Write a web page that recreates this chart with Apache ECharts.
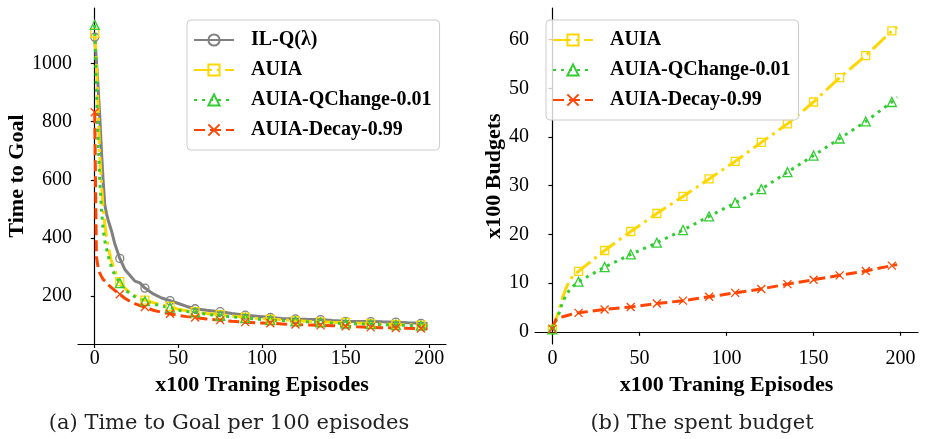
<!DOCTYPE html>
<html><head><meta charset="utf-8">
<script src="https://cdn.jsdelivr.net/npm/echarts@6/dist/echarts.min.js"></script>
<style>html,body{margin:0;padding:0;background:#fff}#c{width:926px;height:439px}</style>
</head><body><div id="c"></div>
<script>
// ---- data (left: Time to Goal) ----
const leftX = [0,1,2,3,4,5,6,7,8,10,12,15,18,21,24,27,30,35,40,45,50,55,60,67,75,82,90,97,105,112,120,127,135,142,150,157,165,172,180,187,195,199];
const leftIL = [1090,1010,920,820,700,600,515,485,462,425,380,330,292,272,252,246,228,208,194,185,175,165,157,152,147,141,135,131,127,124,122,121,120,117,114,113,113,112,111,109,107,106];
const leftAUIA = [1104,1000,850,690,590,505,450,405,370,320,288,250,228,212,202,194,187,178,170,165,155,150,147,141,137,132,128,124,121,119,116,114,112,111,110,108,106,104,103,102,101,100];
const leftQC = [1132,920,740,600,500,430,390,365,340,300,272,245,222,210,198,190,183,173,167,161,152,148,145,138,133,129,125,121,118,116,114,112,110,108,106,105,104,102,101,100,99,98];
const leftDecay = [832,335,300,280,268,258,252,247,240,230,220,207,193,183,175,168,163,152,145,140,134,130,127,122,118,114,111,109,107,105,103,101,100,99,97,95,93,92,91,90,89,88];
// ---- data (right: spent budget) ----
const rightX = [0,1,2,3,4,5,6,8,10,12,15,30,45,60,75,90,105,120,135,150,165,180,195,198];
const rightAUIA = [0.5,1.4,2.5,3.6,4.8,6.0,7.2,9.1,10.6,11.6,12.4,16.7,20.6,24.3,27.8,31.4,35.0,38.9,42.7,47.2,52.2,56.7,61.8,62.6];
const rightQC = [0.5,1.3,2.2,3.1,4.0,5.2,6.2,7.6,8.7,9.4,10.3,13.3,15.9,18.3,20.9,23.7,26.5,29.3,32.8,36.2,39.7,43.2,47.2,48.2];
const rightDecay = [0.6,1.8,2.5,2.8,2.9,3.0,3.1,3.3,3.5,3.7,3.9,4.6,5.1,5.8,6.4,7.2,8.0,8.8,9.8,10.7,11.6,12.5,13.6,13.8];
// ---- ticks ----
const xTicks = [0,50,100,150,200];
const leftYTicks = [200,400,600,800,1000];
const rightYTicks = [0,10,20,30,40,50,60];
const names = ['IL-Q(\u03bb)','AUIA','AUIA-QChange-0.01','AUIA-Decay-0.99'];

const SERIF = '"Liberation Serif", "Times New Roman", serif';
const XPATH = 'path://M0,0L10,10M10,0L0,10';
const styles = {
  'IL-Q(\u03bb)': {color:'#808080', type:'solid', symbol:'circle', size:8},
  'AUIA': {color:'#FFD700', type:[18,5,3,5], symbol:'rect', size:8},
  'AUIA-QChange-0.01': {color:'#32CD32', type:[3,5], symbol:'triangle', size:9},
  'AUIA-Decay-0.99': {color:'#FF4500', type:[11,5], symbol:XPATH, size:8}
};
function mk(name, xs, ys, g){
  const s = styles[name];
  return {
    type:'line', name, xAxisIndex:g, yAxisIndex:g,
    data: xs.map((x,i)=> (x%15===0) ? [x, ys[i]] : {value:[x, ys[i]], symbol:'none'}),
    symbol:s.symbol, symbolSize:s.size, showAllSymbol:true,
    lineStyle:{color:s.color, width:3, type:s.type},
    itemStyle:{color:'rgba(255,255,255,0)', borderColor:s.color, borderWidth:1.3},
    emphasis:{disabled:true}, silent:true, z:2
  };
}
const plain = v => String(v);
function xAxis(g){
  return {type:'value', gridIndex:g, min:-10, max:210,
    name:'x100 Traning Episodes', nameLocation:'middle', nameGap:27,
    nameTextStyle:{fontFamily:SERIF, fontWeight:'bold', fontSize:22, color:'#000'},
    axisLine:{lineStyle:{color:'#000', width:1.2}},
    axisTick:{length:4, lineStyle:{color:'#000', width:1.2}, customValues:xTicks},
    axisLabel:{fontFamily:SERIF, fontSize:20, color:'#000', margin:5, customValues:xTicks, formatter:plain},
    splitLine:{show:false}};
}
function yAxis(g, min, max, ticks, name, gap){
  return {type:'value', gridIndex:g, min, max,
    name, nameLocation:'middle', nameGap:gap,
    nameTextStyle:{fontFamily:SERIF, fontWeight:'bold', fontSize:22, color:'#000'},
    axisLine:{show:true, lineStyle:{color:'#000', width:1.2}},
    axisTick:{show:true, length:4, lineStyle:{color:'#000', width:1.2}, customValues:ticks},
    axisLabel:{fontFamily:SERIF, fontSize:20, color:'#000', margin:6, customValues:ticks, formatter:plain},
    splitLine:{show:false}};
}
const legendBase = {
  orient:'vertical', itemWidth:40, itemHeight:14, itemGap:10, padding:[10,8,10,6],
  borderColor:'#cccccc', borderWidth:1, borderRadius:4, backgroundColor:'rgba(255,255,255,0.8)',
  selectedMode:false,
  textStyle:{fontFamily:SERIF, fontWeight:'bold', fontSize:20, color:'#000', padding:[0,0,0,12]}
};
const chart = echarts.init(document.getElementById('c'), null, {renderer:'canvas'});
chart.setOption({
  animation:false, backgroundColor:'#fff',
  grid:[{left:78, top:8, width:368, height:336}, {left:535, top:8, width:383, height:336}],
  xAxis:[xAxis(0), xAxis(1)],
  yAxis:[yAxis(0, 36, 1190, leftYTicks, 'Time to Goal', 43), yAxis(1, -2.5, 66.5, rightYTicks, 'x100 Budgets', 26)],
  legend:[
    Object.assign({}, legendBase, {left:187, top:20, data:names}),
    Object.assign({}, legendBase, {left:546, top:20, data:names.slice(1)})
  ],
  series:[
    mk(names[0], leftX, leftIL, 0),
    mk(names[1], leftX, leftAUIA, 0),
    mk(names[2], leftX, leftQC, 0),
    mk(names[3], leftX, leftDecay, 0),
    mk(names[1], rightX, rightAUIA, 1),
    mk(names[2], rightX, rightQC, 1),
    mk(names[3], rightX, rightDecay, 1)
  ],
  graphic:[
    {type:'text', x:229, y:424, style:{text:'(a) Time to Goal per 100 episodes', font:'21px "DejaVu Serif"', fill:'#222', align:'center', verticalAlign:'middle'}},
    {type:'text', x:702, y:424, style:{text:'(b) The spent budget', font:'21px "DejaVu Serif"', fill:'#222', align:'center', verticalAlign:'middle'}}
  ]
});
</script></body></html>
